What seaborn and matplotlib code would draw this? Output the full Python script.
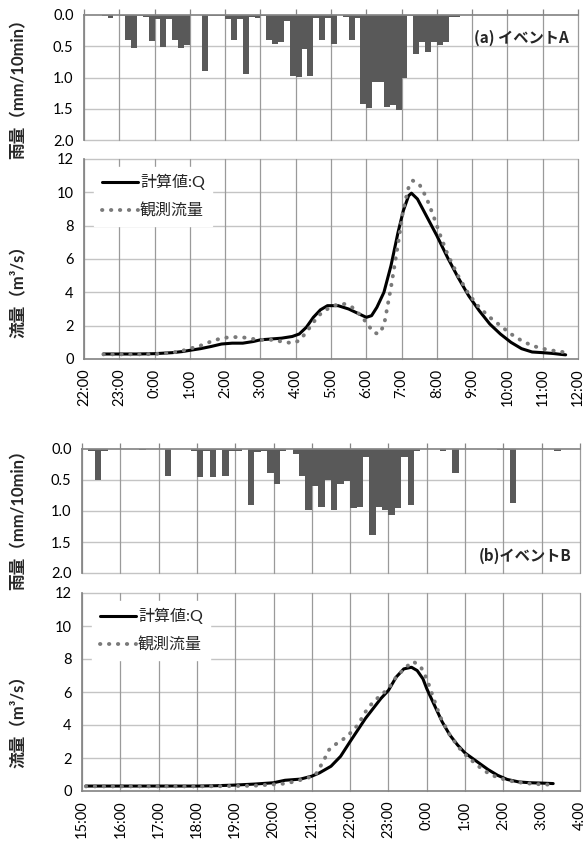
import numpy as np
import pandas as pd
import matplotlib
matplotlib.use("Agg")
import matplotlib.pyplot as plt
import seaborn as sns

sns.set_theme(style="white")
plt.rcParams['font.family'] = ['Lato', 'Noto Sans CJK JP', 'DejaVu Sans']

# ---------------- data ----------------
# Event A: 10-minute rainfall from 22:00 (84 slots, mm/10min)
rain_a = [0, 0, 0, 0.01, 0.05, 0, 0.01, 0.40, 0.52, 0.02,
          0.03, 0.42, 0.07, 0.52, 0.07, 0.40, 0.52, 0.48, 0, 0,
          0.90, 0.01, 0.02, 0.02, 0.06, 0.40, 0.06, 0.95, 0.03, 0.05,
          0.01, 0.40, 0.47, 0.43, 0.10, 0.98, 0.99, 0.54, 0.98, 0.05,
          0.40, 0.05, 0.47, 0, 0.03, 0.40, 0.05, 1.43, 1.49, 1.07,
          1.07, 1.47, 1.44, 1.52, 1.00, 0.02, 0.62, 0.43, 0.59, 0.43,
          0.48, 0.43, 0.04, 0.04, 0, 0, 0, 0, 0, 0,
          0, 0, 0, 0, 0, 0, 0, 0, 0, 0,
          0, 0, 0, 0]
# Event B: 10-minute rainfall from 15:00 (78 slots)
rain_b = [0, 0.03, 0.50, 0.04, 0, 0, 0, 0, 0, 0.02,
          0, 0, 0, 0.43, 0, 0, 0, 0.03, 0.45, 0.03,
          0.45, 0.02, 0.44, 0.04, 0.03, 0, 0.90, 0.05, 0.03, 0.39,
          0.57, 0.03, 0, 0.08, 0.44, 0.98, 0.60, 0.94, 0.50, 0.99,
          0.56, 0.52, 0.95, 0.94, 0.13, 1.39, 0.93, 0.99, 1.07, 0.95,
          0.13, 0.90, 0.03, 0, 0, 0, 0.04, 0, 0.39, 0,
          0, 0, 0, 0, 0, 0.02, 0.02, 0.87, 0, 0,
          0, 0, 0, 0, 0.04, 0, 0, 0]

# Flow, event A (hours after 22:00)
calc_a_t = [0.55, 1.0, 1.5, 2.0, 2.5, 2.8, 3.0, 3.3, 3.6, 3.9, 4.2, 4.5, 4.8, 5.0,
            5.3, 5.6, 5.9, 6.1, 6.3, 6.5, 6.7, 6.9, 7.2, 7.5, 7.8, 8.0, 8.15, 8.3,
            8.5, 8.7, 8.9, 9.05, 9.2, 9.28, 9.45, 9.7, 10.0, 10.3, 10.6, 10.9, 11.2,
            11.5, 11.8, 12.1, 12.4, 12.7, 13.0, 13.3, 13.5, 13.65]
calc_a_q = [0.30, 0.30, 0.30, 0.32, 0.38, 0.45, 0.52, 0.62, 0.75, 0.90, 0.95, 0.95, 1.05, 1.15,
            1.20, 1.25, 1.35, 1.50, 1.90, 2.50, 2.95, 3.20, 3.20, 3.00, 2.70, 2.50, 2.60, 3.10,
            4.00, 5.60, 7.60, 8.90, 9.80, 9.95, 9.60, 8.60, 7.40, 6.10, 4.90, 3.80, 2.90,
            2.10, 1.50, 1.00, 0.62, 0.42, 0.38, 0.33, 0.28, 0.25]
obs_a_t = [0.55, 1.0, 1.5, 2.0, 2.5, 2.8, 3.0, 3.3, 3.6, 3.9, 4.2, 4.5, 4.8, 5.0,
           5.3, 5.6, 5.9, 6.1, 6.3, 6.5, 6.7, 6.9, 7.2, 7.4, 7.6, 7.8, 8.0, 8.2, 8.35,
           8.5, 8.7, 8.9, 9.05, 9.2, 9.32, 9.5, 9.7, 9.9, 10.1, 10.3, 10.6, 10.9, 11.2,
           11.5, 11.8, 12.1, 12.4, 12.7, 13.0, 13.3, 13.5, 13.65]
obs_a_q = [0.28, 0.28, 0.28, 0.30, 0.38, 0.50, 0.62, 0.80, 1.05, 1.25, 1.32, 1.30, 1.20, 1.15,
           1.15, 1.05, 0.95, 1.10, 1.60, 2.20, 2.70, 3.00, 3.30, 3.30, 3.10, 2.70, 2.20, 1.60, 1.50,
           2.00, 4.30, 6.90, 9.00, 10.30, 10.70, 10.50, 9.70, 8.60, 7.40, 6.30, 5.00, 3.90, 3.10,
           2.50, 2.00, 1.50, 1.10, 0.80, 0.62, 0.50, 0.45, 0.38]

# Flow, event B (hours after 15:00)
calc_b_t = [0.1, 1.0, 2.0, 3.0, 3.5, 4.0, 4.5, 5.0, 5.3, 5.7, 6.0, 6.2, 6.5, 6.75, 7.0,
            7.2, 7.4, 7.6, 7.8, 8.0, 8.2, 8.4, 8.6, 8.75, 8.9, 9.0, 9.2, 9.4, 9.6, 9.8,
            10.0, 10.3, 10.6, 10.85, 11.1, 11.4, 11.7, 12.0, 12.3]
calc_b_q = [0.30, 0.30, 0.30, 0.30, 0.32, 0.36, 0.42, 0.50, 0.65, 0.72, 0.90, 1.10, 1.50, 2.10, 3.00,
            3.70, 4.40, 5.00, 5.60, 6.10, 6.90, 7.40, 7.50, 7.30, 6.80, 6.20, 5.20, 4.20, 3.40, 2.80,
            2.30, 1.80, 1.30, 0.95, 0.70, 0.55, 0.50, 0.48, 0.45]
obs_b_t = [0.1, 1.0, 2.0, 3.0, 4.0, 4.5, 5.0, 5.3, 5.6, 5.9, 6.1, 6.3, 6.45, 6.6, 6.8, 7.0,
           7.2, 7.4, 7.6, 7.8, 8.0, 8.2, 8.45, 8.65, 8.85, 9.0, 9.15, 9.35, 9.6, 9.85,
           10.05, 10.35, 10.65, 10.95, 11.3, 11.7, 12.0, 12.3]
obs_b_q = [0.28, 0.28, 0.28, 0.28, 0.30, 0.32, 0.40, 0.45, 0.60, 0.80, 1.00, 1.80, 2.50, 2.80, 3.10, 3.50,
           4.00, 4.80, 5.40, 5.80, 6.20, 6.90, 7.50, 7.85, 7.50, 6.80, 5.80, 4.50, 3.40, 2.60,
           2.10, 1.50, 1.00, 0.75, 0.55, 0.45, 0.40, 0.38]

ticks_a = ["22:00", "23:00", "0:00", "1:00", "2:00", "3:00", "4:00", "5:00",
           "6:00", "7:00", "8:00", "9:00", "10:00", "11:00", "12:00"]
ticks_b = ["15:00", "16:00", "17:00", "18:00", "19:00", "20:00", "21:00", "22:00",
           "23:00", "0:00", "1:00", "2:00", "3:00", "4:00"]

rain_ticks = [0.0, 0.5, 1.0, 1.5, 2.0]
flow_ticks = [0, 2, 4, 6, 8, 10, 12]
labels = ["計算値:Q", "観測流量"]
event_titles = ["(a) イベントA", "(b)イベントB"]

# ---------------- styling ----------------
BAR = "#595959"
VGRID = "#9a9a9a"
HGRID = "#c4c4c4"
AXIS = "#868686"
TFS = 10.5

fig = plt.figure(figsize=(5.88, 8.5), dpi=100)


def style_common(ax, nh):
    ax.set_xlim(0, nh)
    ax.set_xticks(range(nh + 1))
    for s in ax.spines.values():
        s.set_visible(False)
    for x in range(nh + 1):
        ax.axvline(x, color=VGRID, lw=0.9, zorder=0.5, clip_on=False)
    ax.tick_params(axis="both", colors=AXIS, labelcolor="black", labelsize=TFS,
                   length=4, width=0.9, direction="out")
    ax.set_xlabel("")
    ax.set_ylabel("")
    ax.set_facecolor("white")


def rain_panel(rect, rain, nh, title, title_y):
    ax = fig.add_axes(rect)
    n = len(rain)
    centers = [(i + 0.5) / 6 for i in range(n)]
    edges = [i / 6 for i in range(n + 1)]
    sns.histplot(x=centers, weights=rain, bins=edges, ax=ax, color=BAR,
                 alpha=1, linewidth=0, edgecolor="none", zorder=2)
    style_common(ax, nh)
    ax.set_ylim(2.0, 0.0)
    ax.set_yticks(rain_ticks)
    ax.set_yticklabels([f"{v:.1f}" for v in rain_ticks])
    for y in rain_ticks[1:]:
        ax.axhline(y, color=HGRID, lw=1.0, zorder=0.4, clip_on=False)
    ax.spines["top"].set_visible(True)
    ax.spines["top"].set_color(AXIS)
    ax.spines["left"].set_visible(True)
    ax.spines["left"].set_color(AXIS)
    ax.xaxis.tick_top()
    ax.tick_params(axis="x", labeltop=False, labelbottom=False)
    ax.set_xlabel("")
    ax.set_ylabel("")
    ax.text(0.982, title_y, title, transform=ax.transAxes, ha="right", va="center",
            fontsize=11, fontweight="bold", family=["Noto Sans CJK JP"], zorder=5)
    return ax


def flow_panel(rect, ct, cq, ot, oq, nh, tlabels):
    ax = fig.add_axes(rect)
    sns.lineplot(x=ct, y=cq, ax=ax, color="black", linewidth=2.2, label=labels[0],
                 zorder=3)
    sns.lineplot(x=ot, y=oq, ax=ax, color="#7a7a7a", linewidth=2.8, label=labels[1],
                 linestyle=(0, (0.1, 2.2)), dash_capstyle="round", zorder=3)
    style_common(ax, nh)
    ax.set_ylim(0, 12)
    ax.set_yticks(flow_ticks)
    ax.set_yticklabels([str(v) for v in flow_ticks])
    for y in flow_ticks[1:]:
        ax.axhline(y, color=HGRID, lw=1.0, zorder=0.4, clip_on=False)
    ax.spines["bottom"].set_visible(True)
    ax.spines["bottom"].set_color(AXIS)
    ax.spines["left"].set_visible(True)
    ax.spines["left"].set_color(AXIS)
    ax.set_xticklabels(tlabels, rotation=90)
    ax.tick_params(axis="x", pad=3)
    leg = ax.legend(loc="upper left", bbox_to_anchor=(0.005, 1.0), fontsize=11.5,
                    frameon=True, framealpha=1, facecolor="white", edgecolor="white",
                    handlelength=2.3, handletextpad=0.1, labelspacing=0.85,
                    borderpad=0.45, fancybox=False)
    leg.set_zorder(4)
    return ax


ax1 = rain_panel([84 / 588, 1 - 140 / 850, 494 / 588, 125 / 850], rain_a, 14,
                 event_titles[0], 0.82)
ax2 = flow_panel([84 / 588, 1 - 359 / 850, 494 / 588, 200 / 850],
                 calc_a_t, calc_a_q, obs_a_t, obs_a_q, 14, ticks_a)
ax3 = rain_panel([82 / 588, 1 - 573 / 850, 498 / 588, 124 / 850], rain_b, 13,
                 event_titles[1], 0.14)
ax4 = flow_panel([82 / 588, 1 - 791 / 850, 498 / 588, 198 / 850],
                 calc_b_t, calc_b_q, obs_b_t, obs_b_q, 13, ticks_b)

ylab_kw = dict(rotation=90, ha="center", va="center", fontsize=12, fontweight="bold")
fig.text(19 / 588, 1 - 85 / 850, "雨量（mm/10min）", **ylab_kw)
fig.text(19 / 588, 1 - 287 / 850, "流量（m³/s）", **ylab_kw)
fig.text(19 / 588, 1 - 516 / 850, "雨量（mm/10min）", **ylab_kw)
fig.text(19 / 588, 1 - 717 / 850, "流量（m³/s）", **ylab_kw)

fig.savefig("out.png", dpi=100, facecolor="white")
